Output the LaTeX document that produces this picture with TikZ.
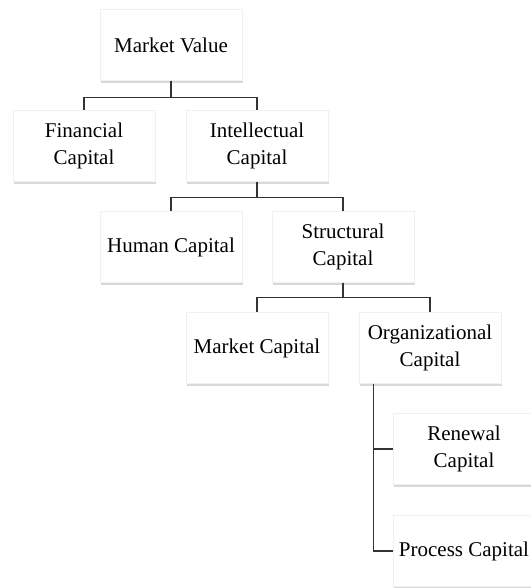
\documentclass[tikz,border=0pt]{standalone}
\usepackage{fontspec}
\setmainfont{Liberation Serif}
\usepackage{tikz}
\usetikzlibrary{shadows,positioning}
\tikzset
{
    capnode/.style = {align=center, fill=white, draw=black!6, minimum width=142pt, minimum height=71pt, inner sep=2pt,
                      font=\fontsize{21}{27}\selectfont,
                      drop shadow={opacity=0.3, shadow xshift=0.5pt, shadow yshift=-2.5pt}},
    link/.style    = {draw=black!80, line width=1.3pt}
}
\begin{document}
\begin{tikzpicture}[x=1pt, y=-1pt]
    \useasboundingbox (0,0) rectangle (530,588);
    \node [capnode] (mv)  at (171,45)  {Market Value};
    \node [capnode] (fin) at (84,146)  {Financial\\Capital};
    \node [capnode] (int) at (257,146) {Intellectual\\Capital};
    \node [capnode] (hum) at (171,247) {Human Capital};
    \node [capnode] (str) at (343,247) {Structural\\Capital};
    \node [capnode] (mkt) at (257,348) {Market Capital};
    \node [capnode] (org) at (430,348) {Organizational\\Capital};
    \node [capnode] (ren) at (464,449) {Renewal\\Capital};
    \node [capnode] (pro) at (464,551) {Process Capital};

    \draw [link] (mv.south) -- ++(0,17) -| (fin.north);
    \draw [link] (mv.south) -- ++(0,17) -| (int.north);
    \draw [link] (int.south) -- ++(0,16) -| (hum.north);
    \draw [link] (int.south) -- ++(0,16) -| (str.north);
    \draw [link] (str.south) -- ++(0,15) -| (mkt.north);
    \draw [link] (str.south) -- ++(0,15) -| (org.north);
    \coordinate (trunk) at ([xshift=15pt]org.south west);
    \draw [link] (trunk) |- (ren.west);
    \draw [link] (trunk) |- (pro.west);
\end{tikzpicture}
\end{document}
